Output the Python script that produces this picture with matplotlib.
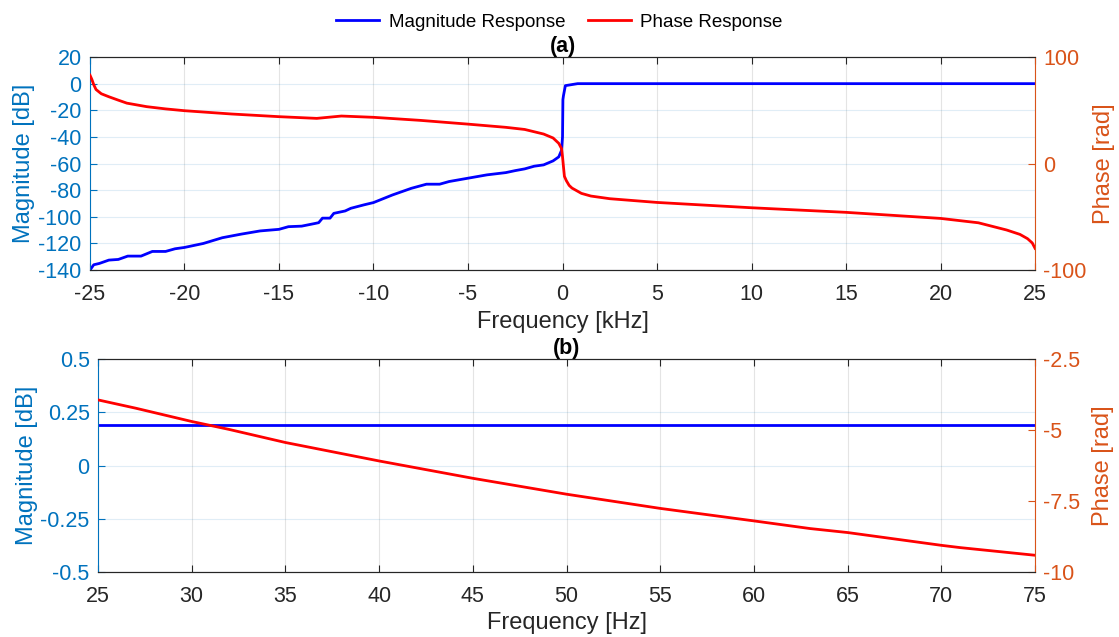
import matplotlib
matplotlib.use("Agg")
import matplotlib.pyplot as plt

plt.rcParams['font.family'] = ['Liberation Sans', 'DejaVu Sans']
plt.rcParams['axes.unicode_minus'] = False

# (a) respuesta completa, frecuencia en kHz
frec_mag_khz = [-25, -24.8, -24.5, -24, -23.5, -23, -22.3, -21.7, -21, -20.5, -20, -19, -18,
                -17, -16, -15, -14.5, -13.8, -13.1, -12.9, -12.7, -12.3, -12.1, -11.5, -11.2,
                -10.5, -10, -9, -8, -7.2, -6.5, -6, -5, -4, -3, -2.5, -2, -1.5, -1, -0.5,
                -0.2, -0.05, 0, 0.02, 0.05, 0.15, 0.8, 5, 10, 15, 20, 25]
magnitud_db = [-140, -136, -135, -132.5, -132, -129.5, -129.5, -126, -126, -124, -123, -120,
               -115.7, -113, -110.6, -109.4, -107.4, -107, -105, -104.4, -101, -101, -97.4,
               -95.6, -93.6, -91, -89.3, -83.6, -78.6, -75.5, -75.5, -73.5, -71, -68.5, -66.8,
               -65.3, -64, -62, -61, -58, -55, -50, -40, -12, -9, -1.5, 0, 0, 0, 0, 0, 0]

frec_fase_khz = [-25, -24.9, -24.8, -24.68, -24.4, -24, -23.5, -23.05, -22, -21, -20, -17.5,
                 -15, -13, -11.7, -10, -7.5, -5, -3, -2, -1, -0.5, -0.2, -0.05, 0, 0.05, 0.1,
                 0.2, 0.35, 0.5, 1, 1.5, 2.5, 5, 7.5, 10, 15, 20, 22, 23.5, 24.2, 24.6, 24.85, 25]
fase_rad = [83, 79, 74, 69.5, 65.5, 62.7, 59.5, 56.7, 53.4, 51.3, 49.6, 46.5, 44, 42.4, 44.6,
            43.4, 40.5, 37, 34, 32, 27.7, 24, 19, 14, 6.4, -3, -12, -16, -20.5, -23, -28,
            -30.5, -33, -36.5, -39, -41.5, -45.8, -51.5, -55.6, -62.4, -66.5, -70.5, -74.5,
            -79.6]

# (b) zoom en baja frecuencia, en Hz
frec_b_hz = [25, 75]
magnitud_b_db = [0.19, 0.19]
frec_fase_b_hz = [25, 27, 30, 32, 35, 40, 45, 50, 55, 60, 63, 65, 70, 71, 75]
fase_b_rad = [-3.94, -4.23, -4.70, -4.98, -5.44, -6.09, -6.70, -7.26, -7.76, -8.2, -8.47,
              -8.61, -9.06, -9.14, -9.41]

AZUL_EJE = '#0072BD'
NARANJA_EJE = '#D95319'
GRIS = '#262626'


def estilo_ejes(ax1, ax2):
    ax1.spines['top'].set_color(GRIS)
    ax1.spines['bottom'].set_color(GRIS)
    ax1.spines['left'].set_color(AZUL_EJE)
    ax1.spines['right'].set_visible(False)
    ax2.spines['left'].set_visible(False)
    ax2.spines['top'].set_color(GRIS)
    ax2.spines['bottom'].set_color(GRIS)
    ax2.spines['right'].set_color(NARANJA_EJE)
    ax1.tick_params(axis='x', direction='in', top=True, colors=GRIS, labelsize=15.5,
                    length=5, pad=10)
    ax1.tick_params(axis='y', direction='in', colors=AZUL_EJE, labelsize=15.5, length=5, pad=6)
    ax2.tick_params(axis='y', direction='in', colors=NARANJA_EJE, labelsize=15.5, length=5, pad=6)
    ax1.xaxis.grid(True, color=GRIS, alpha=0.12, lw=0.8)
    ax1.yaxis.grid(True, color=AZUL_EJE, alpha=0.12, lw=0.8)
    ax1.set_axisbelow(True)
    ax2.yaxis.set_label_coords(1.061, 0.5)


fig = plt.figure(figsize=(11.19, 6.37), dpi=100)

# --- (a) ---
ax1 = fig.add_axes([0.0804, 0.576, 0.8446, 0.3345])
ax2 = ax1.twinx()
l1, = ax1.plot(frec_mag_khz, magnitud_db, color='blue', lw=2, label='Magnitude Response')
l2, = ax2.plot(frec_fase_khz, fase_rad, color='red', lw=2, label='Phase Response')
ax1.set_xlim(-25, 25)
ax1.set_ylim(-140, 20)
ax1.set_xticks(range(-25, 26, 5))
ax1.set_yticks(range(-140, 21, 20))
ax2.set_ylim(-100, 100)
ax2.set_yticks([-100, 0, 100])
ax1.set_xlabel('Frequency [kHz]', fontsize=17, color=GRIS, labelpad=4)
ax1.set_ylabel('Magnitude [dB]', fontsize=17, color=AZUL_EJE, labelpad=2)
ax2.set_ylabel('Phase [rad]', fontsize=17, color=NARANJA_EJE)
ax1.set_title('(a)', fontsize=15.5, fontweight='bold', pad=2)
estilo_ejes(ax1, ax2)

# --- (b) ---
bx1 = fig.add_axes([0.0876, 0.102, 0.8374, 0.3344])
bx2 = bx1.twinx()
bx1.plot(frec_b_hz, magnitud_b_db, color='blue', lw=2)
bx2.plot(frec_fase_b_hz, fase_b_rad, color='red', lw=2)
bx1.set_xlim(25, 75)
bx1.set_ylim(-0.5, 0.5)
bx1.set_xticks(range(25, 76, 5))
bx1.set_yticks([-0.5, -0.25, 0, 0.25, 0.5])
bx1.set_yticklabels(['-0.5', '-0.25', '0', '0.25', '0.5'])
bx2.set_ylim(-10, -2.5)
bx2.set_yticks([-10, -7.5, -5, -2.5])
bx2.set_yticklabels(['-10', '-7.5', '-5', '-2.5'])
bx1.set_xlabel('Frequency [Hz]', fontsize=17, color=GRIS, labelpad=4)
bx1.set_ylabel('Magnitude [dB]', fontsize=17, color=AZUL_EJE, labelpad=2)
bx2.set_ylabel('Phase [rad]', fontsize=17, color=NARANJA_EJE)
bx1.set_title('(b)', fontsize=15.5, fontweight='bold', pad=2)
estilo_ejes(bx1, bx2)

fig.legend(handles=[l1, l2], loc='upper center', bbox_to_anchor=(0.5, 1.005), ncol=2,
           frameon=False, fontsize=13.5, handlelength=2.3, columnspacing=1.2, handletextpad=0.5)

fig.savefig('out.png', dpi=100)
